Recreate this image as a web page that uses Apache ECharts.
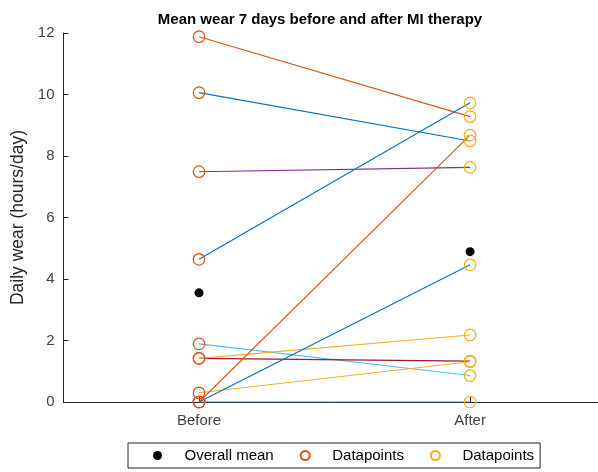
<!DOCTYPE html>
<html>
<head>
<meta charset="utf-8">
<script src="https://cdn.jsdelivr.net/npm/echarts@6/dist/echarts.min.js"></script>
<style>html,body{margin:0;padding:0;background:#fff;}#c{width:598px;height:472px;}</style>
</head>
<body>
<div id="c"></div>
<script>
var categories = ['Before', 'After'];
var beforeVals = [11.88, 10.06, 7.49, 4.64, 1.89, 1.42, 1.42, 0.30, 0, 0, 0];
var afterVals  = [9.28, 8.49, 7.63, 9.73, 0.86, 1.33, 2.18, 1.31, 8.68, 4.46, 0];
var lineColors = ['#D95319', '#0072BD', '#7E2F8E', '#0072BD', '#4DBEEE', '#A2142F', '#EDB120', '#EDB120', '#D95319', '#0072BD', '#3B8FC9'];
var meanVals = [3.55, 4.89];
var yTicks = [0, 2, 4, 6, 8, 10, 12];

var font = 'Liberation Sans, Arial, Helvetica, sans-serif';
var series = [];
for (var i = 0; i < beforeVals.length; i++) {
  series.push({
    type: 'line',
    data: [[1, beforeVals[i]], [2, afterVals[i]]],
    showSymbol: false,
    symbol: 'none',
    lineStyle: { color: lineColors[i], width: 1.1 },
    z: 2,
    silent: true
  });
}
series.push({
  name: 'Overall mean', type: 'scatter',
  data: [[1, meanVals[0]], [2, meanVals[1]]],
  symbol: 'circle', symbolSize: 9,
  itemStyle: { color: '#000', opacity: 1 }, z: 5
});
series.push({
  name: 'Datapoints', id: 'before', type: 'scatter',
  data: beforeVals.map(function (v) { return [1, v]; }),
  symbol: 'circle', symbolSize: 11.5,
  itemStyle: { color: 'rgba(0,0,0,0)', borderColor: '#D95319', borderWidth: 1.2, opacity: 1 }, z: 4
});
series.push({
  name: 'Datapoints ', id: 'after', type: 'scatter',
  data: afterVals.map(function (v) { return [2, v]; }),
  symbol: 'circle', symbolSize: 11.5,
  itemStyle: { color: 'rgba(0,0,0,0)', borderColor: '#EDB120', borderWidth: 1.2, opacity: 1 }, z: 4
});

var chart = echarts.init(document.getElementById('c'), null, { renderer: 'canvas' });
chart.setOption({
  animation: false,
  backgroundColor: '#fff',
  title: {
    text: 'Mean wear 7 days before and after MI therapy',
    left: 315, top: 7, textAlign: 'center',
    textStyle: { fontFamily: font, fontSize: 15, fontWeight: 'bold', color: '#000' }
  },
  legend: {
    left: 128, top: 443,
    padding: [5, 6, 5, 25],
    itemGap: 26,
    itemWidth: 44, itemHeight: 9,
    borderColor: '#262626', borderWidth: 1,
    textStyle: { fontFamily: font, fontSize: 15, color: '#000' },
    data: [
      { name: 'Overall mean', icon: 'circle' },
      { name: 'Datapoints', icon: 'circle' },
      { name: 'Datapoints ', icon: 'circle' }
    ],
    formatter: function (n) { return n.trim(); }
  },
  grid: { left: 63.5, right: 0, top: 33, bottom: 70, containLabel: false },
  xAxis: {
    type: 'value', min: 0.5, max: 2.472,
    axisLine: { show: true, lineStyle: { color: '#262626', width: 1 } },
    axisTick: { show: true, inside: true, length: 5, customValues: [1, 2], lineStyle: { color: '#262626' } },
    axisLabel: {
      customValues: [1, 2], margin: 11,
      formatter: function (v) { return categories[Math.round(v) - 1]; },
      fontFamily: font, fontSize: 15, color: '#404040'
    },
    splitLine: { show: false }
  },
  yAxis: {
    type: 'value', min: 0, max: 12, interval: 2,
    name: 'Daily wear (hours/day)', nameLocation: 'middle', nameGap: 31,
    nameTextStyle: { fontFamily: font, fontSize: 17.5, color: '#262626' },
    axisLine: { show: true, lineStyle: { color: '#262626', width: 1 } },
    axisTick: { show: true, inside: true, length: 5, lineStyle: { color: '#262626' } },
    axisLabel: {
      customValues: yTicks, margin: 9,
      fontFamily: font, fontSize: 15, color: '#404040'
    },
    splitLine: { show: false }
  },
  series: series
});
</script>
</body>
</html>
